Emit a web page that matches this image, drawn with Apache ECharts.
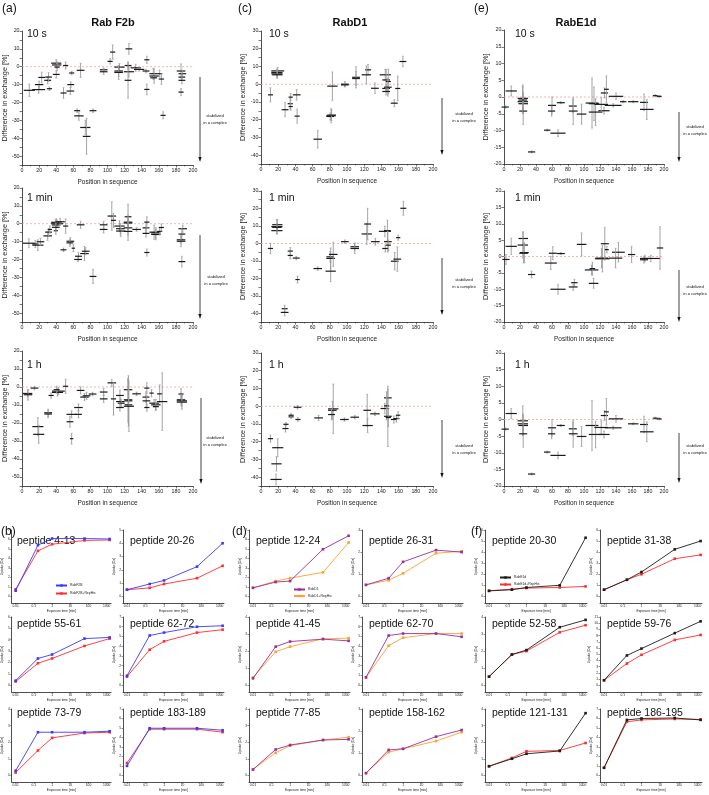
<!DOCTYPE html>
<html><head><meta charset="utf-8">
<script src="https://cdn.jsdelivr.net/npm/echarts@6.0.0/dist/echarts.min.js"></script>
<style>html,body{margin:0;padding:0;background:#fff}#c{width:709px;height:795px}</style>
</head><body><div id="c"></div>
<script>
// ---------------- DATA ----------------
// Difference plots: each entry = [peptide start, peptide end, difference %, error]
const rabF2b_10s = [[2,15,-13.2,3.5],[12,27,-12.8,2],[15,25,-10,2],[19,27,-6,3],[26,34,-7.6,2],[27,35,-5.8,2.5],[29,35,-12.3,1],[34,46,2,2],[35,46,1,2],[36,44,-4.3,2],[38,44,-0.2,2],[45,52,-14.7,3],[48,54,0.7,2],[55,61,-3.5,1],[53,61,-10,1.5],[52,61,-13.6,2],[64,73,-2,4],[61,68,-24.6,1],[61,72,-27.5,2.5],[68,80,-34,4],[71,80,-39,10],[79,87,-24.6,1],[91,100,-1.7,1],[91,100,-2.8,1.5],[100,106,3,1.5],[103,109,8.2,4],[108,120,-0.2,2],[108,118,-2.4,3],[108,118,-3.2,4],[120,128,0.7,2],[121,129,10,3],[119,131,-2.8,3],[120,128,-7.6,10],[127,139,-0.6,2],[131,143,-1.5,1],[141,149,-2.4,1],[143,149,3.9,2],[143,149,-12.7,3],[149,158,-3.9,3],[149,160,-5.2,4],[150,158,-6.2,1],[158,164,-3.9,2],[160,166,-6.9,3],[162,168,-27.2,2],[181,191,-2.4,4],[183,192,-3.9,2],[183,191,-5.8,2],[183,191,-7.6,2],[183,189,-14.2,2]];
const rabF2b_1min = [[1,15,-10.9,2.5],[12,19,-11.3,2],[12,25,-12,3],[17,26,-10.1,2],[25,35,-6.8,2.5],[27,35,-4.7,2],[30,35,-3.2,2],[34,46,0.8,2],[34,48,0,2],[35,44,-0.7,3],[37,42,-3.9,2],[35,44,-2,2],[39,50,1.1,2],[48,54,-1.3,4],[45,52,-14.6,1],[52,61,-9.8,2],[52,60,-10.7,2],[58,62,-13.7,2],[64,73,-0.6,2],[62,70,-18.2,2],[61,70,-20,1],[68,78,-16.7,4],[70,79,-15.4,2],[79,87,-29.5,4],[91,100,-0.6,2],[91,100,-3.2,2],[100,110,4.3,8],[104,110,1.9,4],[108,120,-1.3,3],[110,120,-2.8,3],[110,121,-4.1,3],[120,128,3.9,7],[119,129,0.9,4],[119,129,0.4,3],[119,129,-2.3,4],[119,129,-4.3,5],[129,139,-3.2,1],[141,149,-2.3,3],[143,149,0.9,3],[141,149,-5.4,2],[143,149,-16.1,2],[149,160,-4.7,4],[151,162,-5.1,3],[151,162,-6,3],[158,164,-4.3,2],[160,166,-2.1,2],[183,193,-2.8,2],[183,191,-5.8,3],[181,191,-9,2],[181,191,-9.8,3],[183,191,-21.2,3]];
const rabF2b_1h = [[1,12,-3.6,2],[2,12,-4.3,3],[10,19,-0.6,1],[12,25,-22,5],[13,26,-26.3,5],[26,35,-14.3,2],[26,35,-15,2],[31,37,-4.7,1.5],[35,50,-2.3,2],[35,48,-3,2],[37,44,-1.5,2],[48,54,0.4,4],[52,64,-15.2,2],[52,60,-19.3,3],[62,70,-15.2,2],[56,60,-28.7,3],[61,71,-11.4,2],[64,73,-1.9,2],[68,78,-5.6,2],[71,80,-4.9,2],[78,87,-3.9,1],[91,100,-2.8,2],[91,100,-6.6,2],[100,110,2.3,2],[104,110,-6.6,9],[110,119,-4.7,3],[110,120,-8.1,2],[112,120,-9,2],[110,119,-11.4,2],[119,129,-1.5,6],[119,129,-7.1,12],[120,129,-7.7,14],[120,129,-9.9,10],[119,131,-10.7,14],[129,139,-3.8,1],[143,149,-0.6,3],[141,149,-5.6,3],[141,150,-7.7,3],[143,149,-11.4,2],[149,154,-3.4,2],[149,160,-9,2],[151,162,-9.9,3],[153,160,-10.9,2],[158,164,-3.8,5],[158,170,-8.1,16],[183,189,-3.9,3],[181,191,-7.1,3],[181,193,-7.7,3],[181,193,-8.4,4]];
const rabD1_10s = [[8,14,-6,4],[12,27,7.5,2],[12,25,6.6,2],[12,25,5.8,2],[13,25,5.3,2],[24,32,-14.4,4],[31,37,-11,3],[32,37,-12.6,2],[32,37,-7.3,2],[37,46,-6,3],[39,45,-18,4],[61,71,-31,5],[76,87,-17.8,4],[76,85,-18.2,2],[77,87,-17.4,3],[77,89,-1.1,8],[93,102,0,1.5],[93,102,-0.4,1],[106,115,3.9,6],[106,115,3.2,4],[121,128,8.1,3],[117,128,5.3,5],[128,137,-2.3,3],[138,151,5.3,3],[141,150,2.4,6],[141,150,-2.4,2],[145,151,1.5,7],[143,152,-1.7,5],[141,150,-4.1,2],[151,159,-10.7,2],[156,162,-2.4,7],[161,169,12.8,3]];
const rabD1_1min = [[8,14,-2.9,3],[12,25,9.6,4],[13,25,10.7,3],[12,25,7.3,2],[13,24,9.2,2],[24,31,-37.4,2],[23,32,-39.5,2],[31,37,-4.4,2],[31,37,-6.9,2],[37,45,-8.4,1],[40,45,-20.7,2],[61,71,-14.4,1],[76,85,-7.7,3],[76,86,-8.6,6],[75,87,-15.9,6],[79,89,-6.3,7],[93,102,1,1],[104,114,-1.9,2],[104,114,-2.9,3],[117,129,5.4,6],[120,128,11.1,9],[128,138,1,2],[137,151,6.9,3],[143,151,7.3,6],[143,152,1,6],[141,148,-2.9,2],[145,151,-1,3],[151,160,-10.2,5],[154,163,-9,7],[157,162,3.3,1.5],[162,169,20.1,4]];
const rabD1_1h = [[8,14,-18.3,2],[13,26,-23.4,5],[12,24,-32.5,4],[11,24,-41.3,3],[25,32,-12.6,2],[26,32,-10.2,1],[32,38,-6,1],[32,38,-5.1,1],[38,47,-0.6,1],[40,46,-7.5,1],[62,72,-6.6,1.5],[78,90,-1.5,14],[78,88,-2.3,5],[78,86,-4.7,3],[92,102,-7.5,1],[104,114,-6.2,1],[119,128,-2.3,9],[118,130,-10.9,4],[127,138,-4.3,1],[139,149,-1.3,3],[143,152,4.7,5],[143,149,0.2,8],[143,152,-5.7,17],[145,151,-6.4,5],[151,158,-7.5,2],[154,161,-7,2],[157,162,-5.1,2]];
const rabE1d_10s = [[-3,6,-3,0.5],[2,16,1.8,1.5],[17,30,-0.4,4],[17,30,-1.4,3],[18,30,-2,3],[19,29,-4.2,4],[18,29,-0.9,4],[30,39,-16.4,0.3],[50,58,-9.9,0.3],[55,65,-2.5,2.5],[55,64,-4.2,1.5],[58,77,-10.8,1],[66,76,-1.7,0.3],[81,91,-2.7,2],[81,92,-4.2,4],[91,103,-5.1,3],[102,118,-1.8,7.5],[106,119,-2,5],[106,123,-4.5,4],[118,132,-4.1,1],[113,130,-2.2,2],[121,130,1.2,1.5],[125,131,2.3,4],[131,149,0.2,1],[126,147,-2.5,0.5],[145,153,-1.4,0.3],[155,168,-1.4,0.3],[170,180,-1.6,2.5],[170,187,-3.7,3],[186,192,0.4,0.3],[191,197,0.2,0.3]];
const rabE1d_1min = [[-2,7,-0.9,1.5],[2,16,3.1,2.5],[18,30,5.5,2],[17,30,3.5,4],[20,31,1.2,3],[19,30,1,3],[30,39,-5.5,1],[51,66,-2,2],[56,66,1,2],[66,76,0.9,0.3],[58,77,-10,1.5],[84,92,-8,1],[81,92,-9.3,1],[91,103,3.7,3.5],[101,118,-4.1,1.5],[107,114,-3.7,2],[106,118,-8.2,1.5],[114,132,-0.7,4],[114,130,-0.5,3],[121,131,3.9,5],[126,131,2.1,1],[135,151,1.3,3],[131,148,-0.5,3],[155,164,0.6,2.5],[170,182,-0.6,1],[170,180,-1,1],[172,195,-0.6,1],[191,199,2.6,6.5]];
const rabE1d_1h = [[-3,6,-2.9,0.5],[2,16,1.8,1.5],[17,30,-0.4,4.5],[17,30,-1.3,3],[18,30,-1.8,3],[19,29,-4.3,4],[30,39,-16.4,0.3],[50,58,-9.8,0.3],[55,65,-2.5,2.5],[55,64,-4.3,1.5],[58,77,-10.8,1],[66,76,-1.8,0.3],[81,91,-2.8,2],[81,92,-4.3,4],[91,103,-5.1,3],[102,118,-1.8,7.5],[106,123,-4.5,4],[113,130,-2.4,2],[118,132,-4.5,1],[121,130,1.2,1.5],[125,131,2.3,4],[131,149,0.2,1],[126,147,-2.5,0.5],[155,168,-1.3,0.3],[170,180,-1.5,2.5],[170,187,-3.7,3],[186,192,0.4,0.3],[191,197,0.2,0.3]];

// Uptake curves (Da) at the exposure times (min)
const exposureTimes = [0.01, 0.167, 1, 60, 1440];
const exposureTickLabels = [0.01, 0.1, 1, 10, 100, 1000];
const pep4_13_RabF2B = [0.6, 5.4, 6.1, 6.1, 6.05];
const pep4_13_RabF2BRep = [0.75, 4.8, 5.5, 5.9, 5.95];
const pep20_26_RabF2B = [0.5, 0.93, 1.2, 2.24, 4.0];
const pep20_26_RabF2BRep = [0.5, 0.64, 0.93, 1.37, 2.3];
const pep55_61_RabF2B = [0.4, 2.35, 2.7, 4.1, 4.2];
const pep55_61_RabF2BRep = [0.32, 1.93, 2.35, 3.45, 4.1];
const pep62_72_RabF2B = [0.97, 5.1, 5.4, 6.0, 6.1];
const pep62_72_RabF2BRep = [0.87, 3.64, 4.5, 5.4, 5.7];
const pep73_79_RabF2B = [0.28, 2.6, 2.6, 2.6, 2.66];
const pep73_79_RabF2BRep = [0.17, 1.5, 2.26, 2.55, 2.6];
const pep183_189_RabF2B = [1.0, 4.97, 4.97, 4.97, 4.76];
const pep183_189_RabF2BRep = [1.3, 4.87, 4.87, 4.87, 4.56];
const pep12_24_RabD1 = [0.9, 1.51, 1.61, 4.97, 6.39];
const pep12_24_RabD1Rep = [0.9, 1.61, 1.92, 2.53, 5.68];
const pep26_31_RabD1 = [0.52, 0.82, 1.56, 2.09, 2.0];
const pep26_31_RabD1Rep = [0.52, 0.73, 1.04, 1.95, 2.04];
const pep41_45_RabD1 = [0.4, 2.26, 2.56, 2.7, 2.6];
const pep41_45_RabD1Rep = [0.46, 1.96, 2.26, 2.72, 2.76];
const pep62_70_RabD1 = [0.8, 5.1, 5.3, 5.3, 4.97];
const pep62_70_RabD1Rep = [0.8, 4.06, 4.87, 5.3, 5.3];
const pep77_85_RabD1 = [0.35, 1.56, 1.83, 2.13, 2.17];
const pep77_85_RabD1Rep = [0.37, 1.36, 1.79, 2.13, 2.3];
const pep158_162_RabD1 = [0.1, 1.15, 1.2, 1.75, 2.05];
const pep158_162_RabD1Rep = [0.1, 1.05, 1.2, 1.55, 1.95];
const pep20_30_RabE1d = [0.5, 0.6, 0.8, 1.0, 5.3];
const pep20_30_RabE1dRep = [0.5, 0.65, 0.75, 0.8, 0.9];
const pep31_38_RabE1d = [0.6, 1.5, 2.2, 4.25, 5.0];
const pep31_38_RabE1dRep = [0.6, 1.5, 2.0, 3.4, 3.75];
const pep52_58_RabE1d = [0.5, 1.8, 2.06, 3.4, 3.83];
const pep52_58_RabE1dRep = [0.5, 1.8, 2.0, 3.1, 3.52];
const pep59_76_RabE1d = [0.8, 4.8, 5.9, 8.4, 10.3];
const pep59_76_RabE1dRep = [0.8, 3.5, 4.9, 7.3, 8.1];
const pep121_131_RabE1d = [0.55, 1.0, 1.3, 1.47, 3.75];
const pep121_131_RabE1dRep = [0.55, 1.05, 1.45, 1.5, 1.95];
const pep186_195_RabE1d = [0.8, 5.85, 6.0, 6.05, 5.85];
const pep186_195_RabE1dRep = [0.8, 5.65, 5.85, 5.95, 5.9];

// ---------------- LAYOUT ----------------
const FONT = '"Liberation Sans", Arial, sans-serif';
const topPanels = [
  {data: rabF2b_10s, left:20, width:173, top:31, height:134, ymin:-55, ymax:20, lab:10},
  {data: rabF2b_1min, left:20, width:173, top:188, height:134, ymin:-55, ymax:20, lab:10},
  {data: rabF2b_1h, left:20, width:173, top:351, height:135, ymin:-55, ymax:20, lab:10},
  {data: rabD1_10s, left:261, width:172, top:31, height:133, ymin:-45, ymax:30, lab:10},
  {data: rabD1_1min, left:261, width:172, top:191, height:131, ymin:-45, ymax:30, lab:10},
  {data: rabD1_1h, left:261, width:172, top:353, height:133, ymin:-45, ymax:30, lab:10},
  {data: rabE1d_10s, left:504, width:160, top:30, height:134, ymin:-20, ymax:20, lab:5},
  {data: rabE1d_1min, left:504, width:160, top:191, height:131, ymin:-20, ymax:20, lab:5},
  {data: rabE1d_1h, left:504, width:160, top:353, height:133, ymin:-20, ymax:20, lab:5}
];
const BLUE='#3a3aff', RED='#ff2e2e', PURPLE='#9a2f9a', ORANGE='#ffa030', BLACK='#1c1c1c';
const smallRows = [[530,73],[617,75],[709,73]];
const smallCols = [[10,101],[123,101],[249,101],[362,101],[485,102],[600,102]];
const smallCharts = [
  {t:'peptide 4-13', s:[pep4_13_RabF2B, pep4_13_RabF2BRep], M:7, c:0, r:0, n:['RabF2B','RabF2B+RepHis'], col:[BLUE,RED]},
  {t:'peptide 20-26', s:[pep20_26_RabF2B, pep20_26_RabF2BRep], M:5, c:1, r:0, n:['RabF2B','RabF2B+RepHis'], col:[BLUE,RED]},
  {t:'peptide 55-61', s:[pep55_61_RabF2B, pep55_61_RabF2BRep], M:6, c:0, r:1, n:['RabF2B','RabF2B+RepHis'], col:[BLUE,RED]},
  {t:'peptide 62-72', s:[pep62_72_RabF2B, pep62_72_RabF2BRep], M:7, c:1, r:1, n:['RabF2B','RabF2B+RepHis'], col:[BLUE,RED]},
  {t:'peptide 73-79', s:[pep73_79_RabF2B, pep73_79_RabF2BRep], M:4, c:0, r:2, n:['RabF2B','RabF2B+RepHis'], col:[BLUE,RED]},
  {t:'peptide 183-189', s:[pep183_189_RabF2B, pep183_189_RabF2BRep], M:7, c:1, r:2, n:['RabF2B','RabF2B+RepHis'], col:[BLUE,RED]},
  {t:'peptide 12-24', s:[pep12_24_RabD1, pep12_24_RabD1Rep], M:7, c:2, r:0, n:['RabD1','RabD1+RepHis'], col:[PURPLE,ORANGE]},
  {t:'peptide 26-31', s:[pep26_31_RabD1, pep26_31_RabD1Rep], M:3, c:3, r:0, n:['RabD1','RabD1+RepHis'], col:[PURPLE,ORANGE]},
  {t:'peptide 41-45', s:[pep41_45_RabD1, pep41_45_RabD1Rep], M:4, c:2, r:1, n:['RabD1','RabD1+RepHis'], col:[PURPLE,ORANGE]},
  {t:'peptide 62-70', s:[pep62_70_RabD1, pep62_70_RabD1Rep], M:7, c:3, r:1, n:['RabD1','RabD1+RepHis'], col:[PURPLE,ORANGE]},
  {t:'peptide 77-85', s:[pep77_85_RabD1, pep77_85_RabD1Rep], M:4, c:2, r:2, n:['RabD1','RabD1+RepHis'], col:[PURPLE,ORANGE]},
  {t:'peptide 158-162', s:[pep158_162_RabD1, pep158_162_RabD1Rep], M:3, c:3, r:2, n:['RabD1','RabD1+RepHis'], col:[PURPLE,ORANGE]},
  {t:'peptide 20-30', s:[pep20_30_RabE1d, pep20_30_RabE1dRep], M:6, c:4, r:0, n:['RabE1d','RabE1d+RepHis'], col:[BLACK,RED]},
  {t:'peptide 31-38', s:[pep31_38_RabE1d, pep31_38_RabE1dRep], M:6, c:5, r:0, n:['RabE1d','RabE1d+RepHis'], col:[BLACK,RED]},
  {t:'peptide 52-58', s:[pep52_58_RabE1d, pep52_58_RabE1dRep], M:4, c:4, r:1, n:['RabE1d','RabE1d+RepHis'], col:[BLACK,RED]},
  {t:'peptide 59-76', s:[pep59_76_RabE1d, pep59_76_RabE1dRep], M:11, c:5, r:1, n:['RabE1d','RabE1d+RepHis'], col:[BLACK,RED]},
  {t:'peptide 121-131', s:[pep121_131_RabE1d, pep121_131_RabE1dRep], M:4, c:4, r:2, n:['RabE1d','RabE1d+RepHis'], col:[BLACK,RED]},
  {t:'peptide 186-195', s:[pep186_195_RabE1d, pep186_195_RabE1dRep], M:7, c:5, r:2, n:['RabE1d','RabE1d+RepHis'], col:[BLACK,RED]}
];

// ---------------- BUILD ----------------
const grids=[], xAxes=[], yAxes=[], series=[], graphics=[], legends=[];
const axisLineStyle = {color:'#222', width:0.8};

function renderCross(params, api) {
  const s = api.value(0), e = api.value(1), v = api.value(2), err = api.value(3);
  const p1 = api.coord([s, v]), p2 = api.coord([e, v]);
  const m = (s + e) / 2;
  const t = api.coord([m, v + err]), b = api.coord([m, v - err]);
  return {type:'group', children:[
    {type:'line', shape:{x1:t[0], y1:t[1], x2:b[0], y2:b[1]}, style:{stroke:'#9a9a9a', lineWidth:0.9}},
    {type:'line', shape:{x1:t[0]-1, y1:t[1], x2:t[0]+1, y2:t[1]}, style:{stroke:'#9a9a9a', lineWidth:0.6}},
    {type:'line', shape:{x1:b[0]-1, y1:b[1], x2:b[0]+1, y2:b[1]}, style:{stroke:'#9a9a9a', lineWidth:0.6}},
    {type:'line', shape:{x1:p1[0], y1:p1[1], x2:p2[0], y2:p2[1]}, style:{stroke:'#1a1a1a', lineWidth:1.2}}
  ]};
}

topPanels.forEach(p => {
  const gi = grids.length;
  grids.push({left:p.left, top:p.top, width:p.width, height:p.height});
  xAxes.push({gridIndex:gi, type:'value', min:0, max:200, interval:20,
    axisLine:{show:true, onZero:false, lineStyle:axisLineStyle},
    axisTick:{show:true, length:2.5, lineStyle:{color:'#222', width:0.6}},
    minorTick:{show:true, splitNumber:2, length:1.5, lineStyle:{color:'#222', width:0.5}},
    axisLabel:{fontSize:5.3, color:'#222', margin:3, fontFamily:FONT},
    splitLine:{show:false},
    name:'Position in sequence', nameLocation:'middle', nameGap:14,
    nameTextStyle:{fontSize:6.5, color:'#222', fontFamily:FONT}});
  yAxes.push({gridIndex:gi, type:'value', min:p.ymin, max:p.ymax, interval:5,
    axisLine:{show:true, onZero:false, lineStyle:axisLineStyle},
    axisTick:{show:true, length:2.5, lineStyle:{color:'#222', width:0.6}},
    axisLabel:{fontSize:5.3, color:'#222', margin:2.5, fontFamily:FONT,
      formatter: v => (Math.round(v) % p.lab === 0 ? String(Math.round(v)) : '')},
    splitLine:{show:false},
    name:'Difference in exchange [%]', nameLocation:'middle', nameGap:10,
    nameTextStyle:{fontSize:7.3, color:'#222', fontFamily:FONT}});
  series.push({type:'line', xAxisIndex:gi, yAxisIndex:gi, data:[[0,0],[200,0]], symbol:'none', silent:true, z:1,
    lineStyle:{color:'#f3a0a0', width:0.8, type:[2,2]}});
  series.push({type:'custom', xAxisIndex:gi, yAxisIndex:gi, data:p.data, encode:{x:[0,1], y:2},
    renderItem:renderCross, clip:false, silent:true, z:2});
});

const toLog = t => Math.log10(t);
smallCharts.forEach(ch => {
  const gi = grids.length;
  const [left, width] = smallCols[ch.c];
  const [top, height] = smallRows[ch.r];
  grids.push({left, top, width, height});
  const yt = []; for (let k = 0; k <= ch.M; k++) yt.push(k);
  xAxes.push({gridIndex:gi, type:'value', min:-2.216, max:3.234,
    axisLine:{show:true, onZero:false, lineStyle:axisLineStyle},
    axisTick:{show:true, length:1.5, customValues:exposureTickLabels.map(toLog), lineStyle:{color:'#222', width:0.5}},
    axisLabel:{fontSize:3.3, color:'#222', margin:2, fontFamily:FONT, customValues:exposureTickLabels.map(toLog),
      formatter: v => String(+Math.pow(10, v).toPrecision(2))},
    splitLine:{show:false},
    name:'Exposure time [min]', nameLocation:'middle', nameGap:7,
    nameTextStyle:{fontSize:3.3, color:'#222', fontFamily:FONT}});
  yAxes.push({gridIndex:gi, type:'value', min:-0.1*ch.M, max:ch.M,
    axisLine:{show:true, onZero:false, lineStyle:axisLineStyle},
    axisTick:{show:true, length:1.5, customValues:yt, lineStyle:{color:'#222', width:0.5}},
    axisLabel:{fontSize:3.3, color:'#222', margin:2, fontFamily:FONT, customValues:yt},
    splitLine:{show:false},
    name:'Uptake [Da]', nameLocation:'middle', nameGap:5,
    nameTextStyle:{fontSize:3.3, color:'#222', fontFamily:FONT}});
  ch.s.forEach((vals, i) => {
    series.push({type:'line', name:ch.n[i], xAxisIndex:gi, yAxisIndex:gi,
      data: exposureTimes.map((t, k) => [toLog(t), vals[k]]),
      symbol:'rect', symbolSize:2.6, showSymbol:true, silent:true,
      itemStyle:{color:ch.col[i]}, lineStyle:{color:ch.col[i], width:0.9}, z:3 - i});
  });
  graphics.push({type:'text', x:left + 7, y:(ch.r === 0 ? 541 : (ch.r === 1 ? 624 : 713)),
    style:{text:ch.t, fontSize:10.5, fontFamily:FONT, fill:'#111', align:'left', verticalAlign:'middle'}});
});

function leg(names, colors, left, top, gap) {
  legends.push({data:names.map((n, i) => ({name:n, itemStyle:{color:colors[i]}, lineStyle:{color:colors[i]}})),
    left, top, orient:'vertical', itemWidth:11, itemHeight:3, itemGap:gap, selectedMode:false,
    textStyle:{fontSize:3.4, color:'#222', fontFamily:FONT, padding:[0,0,0,-2]}, padding:0});
}
leg(['RabF2B','RabF2B+RepHis'], [BLUE,RED], 55, 584, 5);
leg(['RabD1','RabD1+RepHis'], [PURPLE,ORANGE], 293, 588, 3.5);
leg(['RabE1d','RabE1d+RepHis'], [BLACK,RED], 499, 576, 4);

// texts
function txt(x, y, s, size, opt) {
  opt = opt || {};
  graphics.push({type:'text', x, y, style:{text:s, fontSize:size, fontFamily:FONT, fill:'#111',
    fontWeight:opt.bold ? 'bold' : 'normal', align:opt.align || 'left', verticalAlign:'middle'}});
}
txt(2, 9, '(a)', 12); txt(238, 9, '(c)', 12); txt(474, 9, '(e)', 12);
txt(113, 23, 'Rab F2b', 11, {bold:true, align:'center'});
txt(350, 23, 'RabD1', 11, {bold:true, align:'center'});
txt(576, 23, 'RabE1d', 11, {bold:true, align:'center'});
[27, 269, 515].forEach(x => { txt(x, 34, '10 s', 10.5); txt(x, 198, '1 min', 10.5); txt(x, 365, '1 h', 10.5); });
txt(1, 532, '(b)', 12); txt(232, 532, '(d)', 12); txt(471, 532, '(f)', 12);

// arrows "stabilized in a complex"
const arrowSpecs = [
  [200, 77, 162, 215, 116], [200, 235, 319, 216, 277], [201, 398, 484, 215, 438],
  [442, 98, 155, 464, 114], [442, 258, 315, 464, 280], [442, 420, 478, 464, 446],
  [679, 112, 162, 695, 127], [679, 270, 322, 695, 287], [679, 433, 483, 695, 446]
];
arrowSpecs.forEach(([x, y1, y2, tx, ty]) => {
  graphics.push({type:'line', shape:{x1:x, y1:y1, x2:x, y2:y2 - 3}, style:{stroke:'#111', lineWidth:0.8}});
  graphics.push({type:'polygon', shape:{points:[[x - 1.6, y2 - 5], [x + 1.6, y2 - 5], [x, y2]]}, style:{fill:'#111'}});
  txt(tx, ty, 'stabilized', 4.2, {align:'center'});
  txt(tx, ty + 7, 'in a complex', 4.2, {align:'center'});
});

const chart = echarts.init(document.getElementById('c'), null, {renderer:'canvas'});
chart.setOption({
  animation:false,
  backgroundColor:'#fff',
  textStyle:{fontFamily:FONT},
  grid:grids, xAxis:xAxes, yAxis:yAxes, series, legend:legends, graphic:graphics
});
</script></body></html>
